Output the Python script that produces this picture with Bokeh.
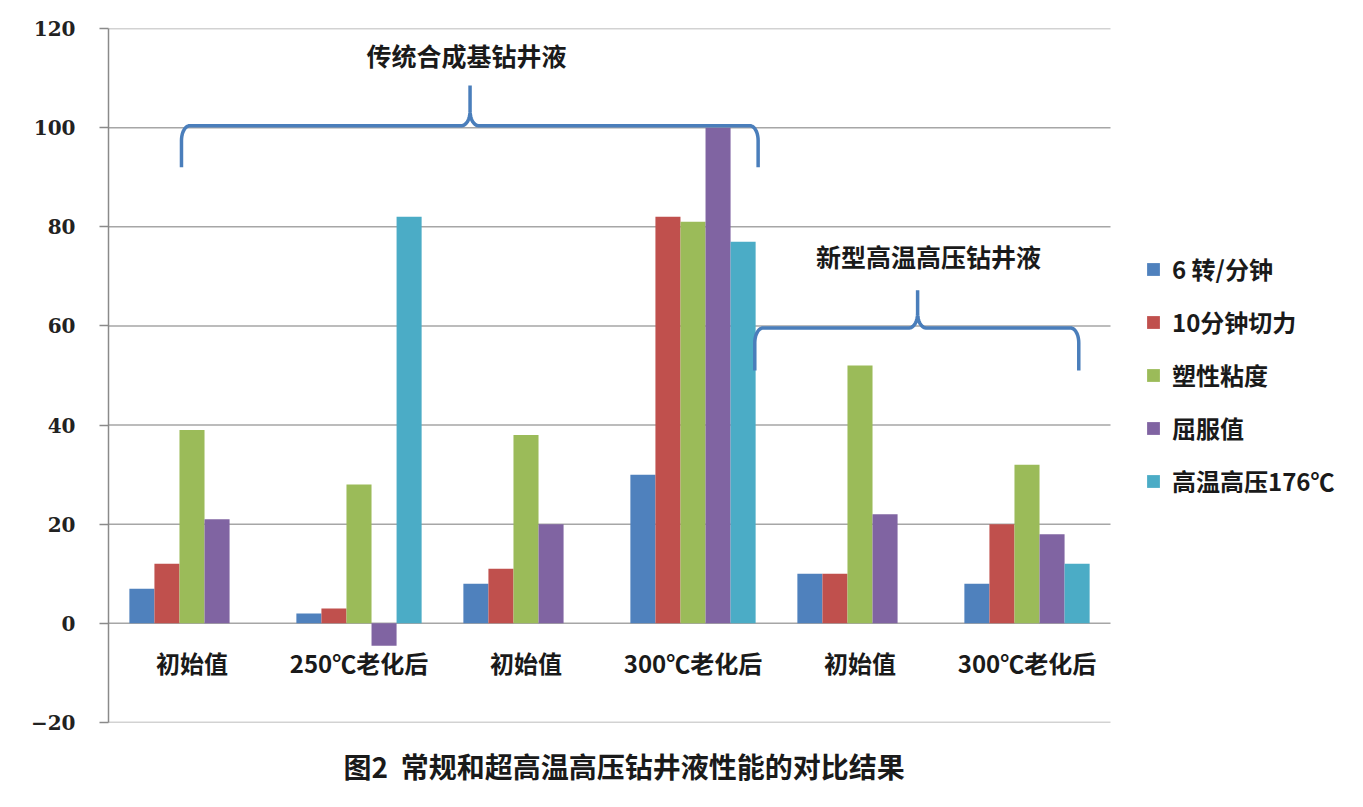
import numpy as np
from bokeh.plotting import figure
from bokeh.models import (Range1d, ColumnDataSource, Legend, LegendItem, Title,
                          FixedTicker)
from bokeh.core.properties import value
from bokeh.embed import file_html
from bokeh.resources import INLINE

# ---- data ----
categories = ["初始值", "250℃老化后", "初始值", "300℃老化后", "初始值", "300℃老化后"]
series_names = ["6 转/分钟", "10分钟切力", "塑性粘度", "屈服值", "高温高压176℃"]
rpm6 = [7, 2, 8, 30, 10, 8]
gel10 = [12, 3, 11, 82, 10, 20]
pv = [39, 28, 38, 81, 52, 32]
yp = [21, -4.5, 20, 100, 22, 18]
hthp = [0, 82, 0, 77, 0, 12]
y_ticks = [-20, 0, 20, 40, 60, 80, 100, 120]
group1_label = "传统合成基钻井液"
group2_label = "新型高温高压钻井液"
caption = "图2  常规和超高温高压钻井液性能的对比结果"

colors = ["#4F81BD", "#C0504D", "#9BBB59", "#8064A2", "#4BACC6"]
series = [rpm6, gel10, pv, yp, hthp]

CJK = "Noto Sans CJK SC"
n_cat = len(categories)
x_end = n_cat * (1355 - 108) / (1110 - 108)

p = figure(width=1355, height=807, output_backend="svg", toolbar_location=None,
           x_range=Range1d(0, x_end), y_range=Range1d(-20, 120),
           min_border_left=108, min_border_top=28, min_border_bottom=85,
           min_border_right=0)
p.outline_line_color = None
p.xaxis.visible = False
p.xgrid.visible = False
p.ygrid.visible = False

p.yaxis.ticker = FixedTicker(ticks=y_ticks)
p.yaxis.axis_line_color = "#8a8a8a"
p.yaxis.axis_line_width = 1.5
p.yaxis.major_tick_line_color = "#8a8a8a"
p.yaxis.major_tick_line_width = 1.5
p.yaxis.major_tick_out = 9
p.yaxis.major_tick_in = 0
p.yaxis.minor_tick_line_color = None
p.yaxis.major_label_standoff = 24
p.yaxis.major_label_text_font = "DejaVu Serif"
p.yaxis.major_label_text_font_style = "bold"
p.yaxis.major_label_text_font_size = "20px"
p.yaxis.major_label_text_color = "#222222"

# horizontal gridlines limited to the category span
p.segment(x0=[0] * len(y_ticks), x1=[n_cat] * len(y_ticks), y0=y_ticks, y1=y_ticks,
          line_color="#a6a6a6", line_width=1.5)

bw = 0.15
centers = np.arange(n_cat) + 0.5
renderers = []
for k, (vals, col) in enumerate(zip(series, colors)):
    xs = centers + (k - 2) * bw
    src = ColumnDataSource(dict(x=xs, top=vals))
    r = p.vbar(x="x", top="top", bottom=0, width=bw, source=src,
               fill_color=col, line_color=None)
    renderers.append(r)

# category labels near zero line
p.text(x=centers, y=[-7.8] * n_cat, text=categories,
       text_font=value(CJK), text_font_style="bold", text_font_size="24px",
       text_align="center", text_baseline="middle", text_color="#1a1a1a")


def brace(x0, x1, xm, ybase, yend, ypeak, rx, ry):
    t = np.linspace(0, np.pi / 2, 12)
    xs, ys = [x0], [yend]
    xs += list(x0 + rx - rx * np.cos(t)); ys += list(ybase - ry + ry * np.sin(t))
    xs += list(xm - rx + rx * np.sin(t)); ys += list(ybase + ry - ry * np.cos(t))
    xs += [xm]; ys += [ypeak]
    xs += list(xm + rx - rx * np.sin(t[::-1])); ys += list(ybase + ry - ry * np.cos(t[::-1]))
    xs += list(x1 - rx + rx * np.sin(t)); ys += list(ybase - ry + ry * np.cos(t))
    xs += [x1]; ys += [yend]
    return xs, ys


bx, by = brace(0.437, 3.89, 2.165, 100.4, 92.0, 108.5, 0.05, 3.0)
p.line(bx, by, line_color="#4A7EBB", line_width=3.5)
bx2, by2 = brace(3.87, 5.81, 4.845, 59.6, 51.0, 67.2, 0.05, 3.0)
p.line(bx2, by2, line_color="#4A7EBB", line_width=3.5)

p.text(x=[2.144], y=[114.6], text=[group1_label], text_font=value(CJK),
       text_font_style="bold", text_font_size="25px", text_align="center",
       text_baseline="middle", text_color="#1a1a1a")
p.text(x=[4.91], y=[74.2], text=[group2_label], text_font=value(CJK),
       text_font_style="bold", text_font_size="25px", text_align="center",
       text_baseline="middle", text_color="#1a1a1a")

items = [LegendItem(label=n, renderers=[r]) for n, r in zip(series_names, renderers)]
legend = Legend(items=items, location=(1037, 224), border_line_color=None,
                background_fill_alpha=0, label_text_font=CJK,
                label_text_font_style="bold", label_text_font_size="24px",
                label_text_color="#1a1a1a", glyph_width=16, glyph_height=16,
                label_height=26, label_standoff=11, spacing=18, padding=0, margin=0)
p.add_layout(legend)

p.add_layout(Title(text=caption.replace("  ", "\u00a0\u00a0"), align="left",
                   offset=235, standoff=42,
                   text_font=CJK, text_font_style="bold", text_font_size="28px",
                   text_color="#1a1a1a"), "below")

open("out.html", "w").write(file_html(p, INLINE))
